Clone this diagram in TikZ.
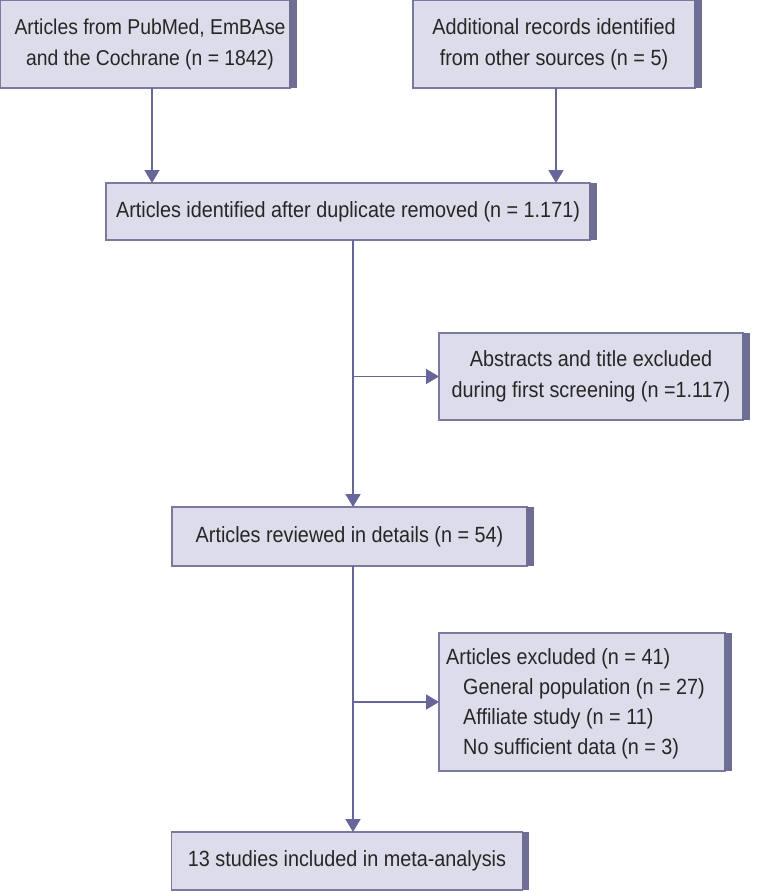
\documentclass[tikz,border=0pt]{standalone}
\usepackage{fontspec}
\setmainfont{Liberation Sans}[FakeStretch=0.9]
\usetikzlibrary{arrows.meta}
\definecolor{boxfill}{HTML}{DCDCEA}
\definecolor{boxline}{HTML}{7A7AA0}
\definecolor{barcol}{HTML}{6E6E94}
\definecolor{arrcol}{HTML}{66669A}
\definecolor{txt}{HTML}{262626}
\begin{document}
\begin{tikzpicture}[x=1pt,y=-1pt,
  box/.style={draw=boxline, line width=1.5pt, fill=boxfill, inner sep=0pt, outer sep=0pt,
    text=txt, font=\fontsize{22}{31}\selectfont, align=center},
  lbl/.style={text=txt, font=\fontsize{22}{30}\selectfont, align=left, inner sep=0pt},
  arr/.style={draw=arrcol, line width=1.8pt, -{Triangle[width=15pt,length=13pt]}, arrcol}]
\useasboundingbox (0,0) rectangle (756,892);
\node[box, minimum width=290pt, minimum height=88pt] (b1) at (145,44) {};
\node[lbl, align=center, font=\fontsize{21.5}{31}\selectfont] (t1) at (150,44)
  {Articles from PubMed, EmBAse\\and the Cochrane (n = 1842)};
\node[box, minimum width=282pt, minimum height=88pt] (b2) at (554,44)
  {Additional records identified\\from other sources (n = 5)};
\node[box, minimum width=484pt, minimum height=57pt] (b3) at (348,211.5)
  {Articles identified after duplicate removed (n = 1.171)};
\node[box, minimum width=304pt, minimum height=87pt] (b4) at (591,376.5)
  {Abstracts and title excluded\\during first screening (n =1.117)};
\node[box, minimum width=355pt, minimum height=59pt] (b5) at (349.5,536.5)
  {Articles reviewed in details (n = 54)};
\node[box, minimum width=286pt, minimum height=138pt] (b6) at (582,702) {};
\node[lbl, anchor=west] (t6) at (446,704)
  {Articles excluded (n = 41)\\
   \hspace*{17pt}General population (n = 27)\\
   \hspace*{17pt}Affiliate study (n = 11)\\
   \hspace*{17pt}No sufficient data (n = 3)};
\node[box, minimum width=351pt, minimum height=58pt] (b7) at (347,861)
  {13 studies included in meta-analysis};
% right bars
\foreach \n in {b1,b2,b3,b4,b5,b6,b7}{
  \fill[barcol] ([xshift=-0.75pt]\n.north east) rectangle ([xshift=6.5pt]\n.south east);
}
\coordinate (l1) at (152,0);
\coordinate (r1) at (556,0);
\coordinate (sp) at (353,0);
\draw[arr] (b1.south -| l1) -- (b3.north -| l1);
\draw[arr] (b2.south -| r1) -- (b3.north -| r1);
\draw[arr] (b3.south -| sp) -- (b5.north -| sp);
\draw[arr] (b4.west -| sp) -- (b4.west);
\draw[arr] (b5.south -| sp) -- (b7.north -| sp);
\draw[arr] (b6.west -| sp) -- (b6.west);
\end{tikzpicture}
\end{document}
